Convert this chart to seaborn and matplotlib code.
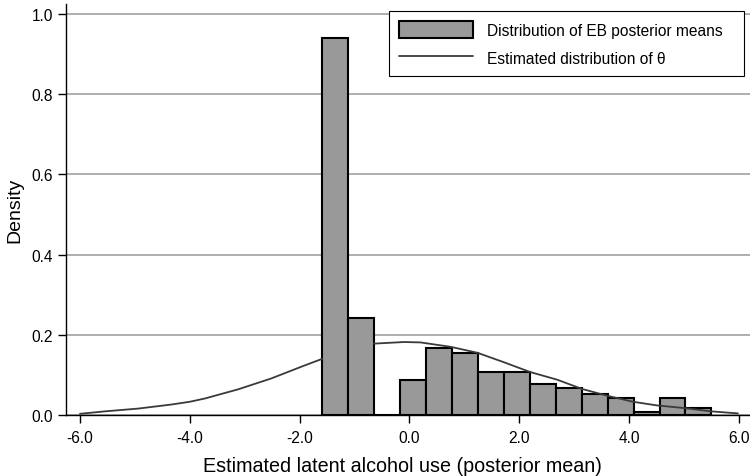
import numpy as np
import pandas as pd
import matplotlib
matplotlib.use("Agg")
import matplotlib.pyplot as plt
import seaborn as sns

# Histogram of EB posterior means (bin edges and densities)
bin_edges = [-1.59, -1.1175, -0.645, -0.1725, 0.30, 0.7725, 1.245, 1.7175,
             2.19, 2.6625, 3.135, 3.6075, 4.08, 4.5525, 5.025, 5.4975]
bin_heights = [0.941, 0.242, 0.0, 0.088, 0.168, 0.155, 0.108, 0.106,
               0.077, 0.068, 0.052, 0.042, 0.007, 0.042, 0.018]

# Estimated distribution of theta (left tail, then right part)
theta_x_left = [-6.0, -5.55, -4.94, -4.34, -4.0, -3.73, -3.12, -2.52, -1.92, -1.59]
theta_y_left = [0.003, 0.009, 0.016, 0.026, 0.033, 0.041, 0.064, 0.091, 0.123, 0.140]
theta_x_right = [-0.645, -0.10, 0.20, 0.75, 1.24, 1.71, 2.20, 2.69, 3.14,
                 3.60, 4.07, 4.50, 5.02, 5.50, 5.98]
theta_y_right = [0.178, 0.182, 0.181, 0.170, 0.155, 0.132, 0.107, 0.088, 0.065,
                 0.048, 0.033, 0.024, 0.017, 0.009, 0.004]

x_ticks = [-6.0, -4.0, -2.0, 0.0, 2.0, 4.0, 6.0]
y_ticks = [0.0, 0.2, 0.4, 0.6, 0.8, 1.0]

sns.set_theme(style="ticks")
plt.rcParams["font.family"] = ["Liberation Sans", "DejaVu Sans"]
plt.rcParams["axes.unicode_minus"] = False

fig = plt.figure(figsize=(7.5, 4.77), dpi=100)
ax = fig.add_axes([0.0876, 0.1279, 0.9124, 0.8616])

centers = [(a + b) / 2 for a, b in zip(bin_edges[:-1], bin_edges[1:])]
hist_df = pd.DataFrame({"x": centers, "w": bin_heights})
sns.histplot(data=hist_df, x="x", weights="w", bins=bin_edges, stat="count",
             color="#999999", edgecolor="black", linewidth=1.5, alpha=1,
             ax=ax, label="Distribution of EB posterior means", zorder=2)

sns.lineplot(x=theta_x_left, y=theta_y_left, color="#3a3a3a", lw=1.3, ax=ax,
             label="Estimated distribution of θ", zorder=3)
sns.lineplot(x=theta_x_right, y=theta_y_right, color="#3a3a3a", lw=1.3, ax=ax,
             label="_nolegend_", zorder=3)

ax.set_xlim(-6.26, 6.2)
ax.set_ylim(0, 1.025)
ax.set_xticks(x_ticks)
ax.set_xticklabels([f"{t:.1f}" for t in x_ticks])
ax.set_yticks(y_ticks)
ax.set_yticklabels([f"{t:.1f}" for t in y_ticks])

ax.yaxis.grid(True, color="#a8a8a8", lw=1.3)
ax.xaxis.grid(False)
ax.set_axisbelow(True)

sns.despine(ax=ax, top=True, right=True)
for side in ("left", "bottom"):
    ax.spines[side].set_color("black")
    ax.spines[side].set_linewidth(1.0)

ax.tick_params(axis="both", direction="out", length=5.5, width=1, color="black",
               labelsize=11.2, labelcolor="black", pad=3.5)
ax.tick_params(axis="x", pad=5)

ax.set_xlabel("Estimated latent alcohol use (posterior mean)", fontsize=14.2,
              color="black", labelpad=8.3)
ax.xaxis.label.set_x(0.492)
ax.set_ylabel("Density", fontsize=14, color="black", labelpad=6)

handles, labels = ax.get_legend_handles_labels()
order = [labels.index("Distribution of EB posterior means"),
         labels.index("Estimated distribution of θ")]
leg = ax.legend([handles[i] for i in order], [labels[i] for i in order],
                loc="upper left", bbox_to_anchor=(0.473, 0.80, 0.518, 0.182),
                mode="expand", frameon=True,
                fancybox=False, edgecolor="black", framealpha=1, fontsize=11.2,
                handlelength=4.8, handleheight=1.35, borderpad=0.6,
                labelspacing=0.7, handletextpad=0.85, borderaxespad=0)
leg.get_frame().set_linewidth(0.8)
for t in leg.get_texts():
    t.set_color("black")

fig.savefig("out.png", dpi=100)
